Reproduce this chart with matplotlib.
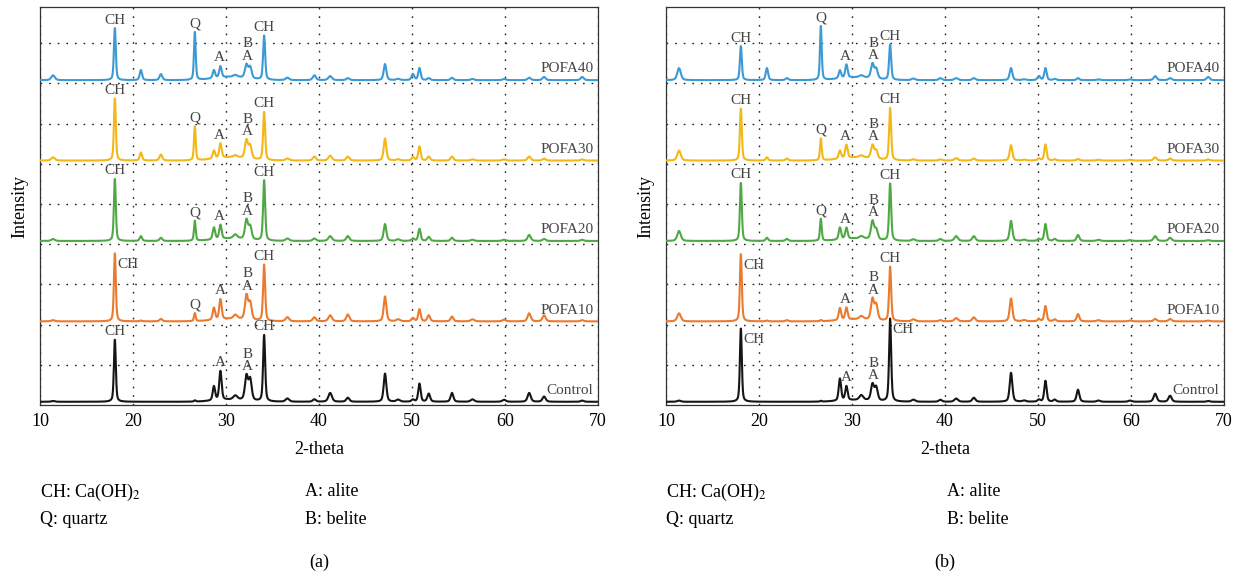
import numpy as np
import matplotlib
matplotlib.use("Agg")
import matplotlib.pyplot as plt

plt.rcParams["font.family"] = ["Liberation Serif", "DejaVu Serif"]
plt.rcParams["mathtext.fontset"] = "stix"

# Reflection positions (2-theta, deg) and their widths (FWHM, deg)
PEAK_POS = [11.4, 18.05, 20.85, 23.0, 26.65, 28.7, 29.4, 31.0, 32.2, 32.6,
            34.1, 36.6, 39.5, 41.2, 43.1, 47.1, 48.5, 50.1, 50.8, 51.8,
            54.3, 56.5, 59.9, 62.6, 64.2, 68.3]
PEAK_FWHM = [0.45, 0.24, 0.3, 0.35, 0.22, 0.3, 0.3, 0.5, 0.38, 0.38,
             0.26, 0.45, 0.4, 0.45, 0.4, 0.34, 0.45, 0.35, 0.3, 0.35,
             0.35, 0.45, 0.45, 0.4, 0.4, 0.4]

SAMPLES = ["Control", "POFA10", "POFA20", "POFA30", "POFA40"]
COLORS = ["#151515", "#ea7a2e", "#4fa845", "#f3b716", "#3b9ad4"]

# Peak heights (a), one row per sample, same order as PEAK_POS
A_CONTROL = [0.02, 1.55, 0.0, 0.0, 0.03, 0.35, 0.72, 0.1, 0.6, 0.52,
             1.65, 0.08, 0.06, 0.22, 0.1, 0.7, 0.05, 0.05, 0.45, 0.2,
             0.22, 0.06, 0.05, 0.22, 0.13, 0.03]
A_POFA10 = [0.03, 1.7, 0.02, 0.06, 0.2, 0.3, 0.5, 0.1, 0.6, 0.42,
            1.4, 0.1, 0.1, 0.15, 0.17, 0.62, 0.05, 0.08, 0.3, 0.15,
            0.12, 0.05, 0.04, 0.2, 0.15, 0.03]
A_POFA20 = [0.05, 1.55, 0.12, 0.08, 0.5, 0.3, 0.35, 0.1, 0.48, 0.32,
            1.5, 0.06, 0.06, 0.12, 0.12, 0.42, 0.04, 0.06, 0.3, 0.1,
            0.08, 0.03, 0.03, 0.15, 0.05, 0.03]
A_POFA30 = [0.08, 1.55, 0.2, 0.15, 0.85, 0.2, 0.36, 0.05, 0.45, 0.32,
            1.2, 0.05, 0.1, 0.12, 0.1, 0.55, 0.03, 0.08, 0.35, 0.1,
            0.1, 0.03, 0.03, 0.1, 0.05, 0.03]
A_POFA40 = [0.12, 1.3, 0.25, 0.15, 1.2, 0.2, 0.28, 0.05, 0.33, 0.28,
            1.1, 0.06, 0.12, 0.1, 0.05, 0.4, 0.03, 0.15, 0.3, 0.05,
            0.06, 0.03, 0.03, 0.06, 0.08, 0.08]

# Peak heights (b)
B_CONTROL = [0.03, 1.83, 0.0, 0.0, 0.02, 0.55, 0.35, 0.12, 0.4, 0.33,
             2.06, 0.05, 0.05, 0.08, 0.1, 0.72, 0.03, 0.05, 0.52, 0.05,
             0.3, 0.03, 0.03, 0.2, 0.15, 0.02]
B_POFA10 = [0.2, 1.68, 0.02, 0.03, 0.03, 0.3, 0.3, 0.08, 0.52, 0.38,
            1.35, 0.05, 0.03, 0.08, 0.1, 0.57, 0.03, 0.05, 0.38, 0.05,
            0.18, 0.03, 0.02, 0.06, 0.06, 0.02]
B_POFA20 = [0.25, 1.45, 0.08, 0.05, 0.55, 0.3, 0.28, 0.06, 0.45, 0.25,
            1.42, 0.04, 0.05, 0.12, 0.12, 0.5, 0.03, 0.05, 0.42, 0.05,
            0.15, 0.03, 0.02, 0.12, 0.08, 0.02]
B_POFA30 = [0.25, 1.3, 0.08, 0.05, 0.55, 0.2, 0.33, 0.05, 0.33, 0.2,
            1.3, 0.03, 0.03, 0.06, 0.05, 0.38, 0.02, 0.05, 0.4, 0.03,
            0.04, 0.02, 0.02, 0.08, 0.05, 0.03]
B_POFA40 = [0.3, 0.85, 0.3, 0.05, 1.35, 0.2, 0.33, 0.05, 0.36, 0.24,
            0.88, 0.04, 0.05, 0.05, 0.05, 0.3, 0.02, 0.1, 0.3, 0.03,
            0.05, 0.02, 0.02, 0.1, 0.05, 0.08]

HEIGHTS = {"a": [A_CONTROL, A_POFA10, A_POFA20, A_POFA30, A_POFA40],
           "b": [B_CONTROL, B_POFA10, B_POFA20, B_POFA30, B_POFA40]}

# amorphous hump under the 29-34 deg cluster
HUMP_POS, HUMP_FWHM = 30.5, 4.0
HUMP_A = [0.05, 0.06, 0.06, 0.08, 0.08]
HUMP_B = [0.04, 0.05, 0.06, 0.08, 0.07]

OFFSET_STEP = 2.0
BASE = 0.08

# phase markers: (text, 2-theta); a trailing ">" puts the text beside the peak
MARKERS_A = [
    [("CH", 18.05), ("A", 29.4), ("BA", 32.3), ("CH", 34.1)],
    [("CH>", 18.05), ("Q", 26.65), ("A", 29.4), ("BA", 32.3), ("CH", 34.1)],
    [("CH", 18.05), ("Q", 26.65), ("A", 29.3), ("BA", 32.3), ("CH", 34.1)],
    [("CH", 18.05), ("Q", 26.65), ("A", 29.3), ("BA", 32.3), ("CH", 34.1)],
    [("CH", 18.05), ("Q", 26.65), ("A", 29.3), ("BA", 32.3), ("CH", 34.1)],
]
MARKERS_B = [
    [("CH>", 18.05), ("A", 29.4), ("BA", 32.3), ("CH>", 34.1)],
    [("CH>", 18.05), ("A", 29.3), ("BA", 32.3), ("CH", 34.1)],
    [("CH", 18.05), ("Q", 26.65), ("A", 29.3), ("BA", 32.3), ("CH", 34.1)],
    [("CH", 18.05), ("Q", 26.65), ("A", 29.3), ("BA", 32.3), ("CH", 34.1)],
    [("CH", 18.05), ("Q", 26.65), ("A", 29.3), ("BA", 32.3), ("CH", 34.1)],
]

two_theta = np.arange(10.0, 70.0, 0.02)
LABEL_KW = dict(fontsize=11, color="#444444", zorder=4)


def pattern(heights, hump):
    y = np.full_like(two_theta, BASE)
    for pos, w, h in zip(PEAK_POS, PEAK_FWHM, heights):
        g = np.exp(-4 * np.log(2) * ((two_theta - pos) / w) ** 2)
        lor = 1.0 / (1.0 + 4 * ((two_theta - pos) / w) ** 2)
        y += h * (0.55 * g + 0.45 * lor)
    y += hump * np.exp(-4 * np.log(2) * ((two_theta - HUMP_POS) / HUMP_FWHM) ** 2)
    return y


def top_near(x, y, x0, half=0.3):
    m = np.abs(x - x0) <= half
    return y[m].max()


def draw_panel(ax, heights, humps, markers):
    ax.set_xlim(10, 70)
    ax.set_ylim(0, 9.9)
    ax.set_xticks(range(10, 71, 10))
    ax.set_yticks(range(1, 10))
    ax.tick_params(axis="y", length=0, labelleft=False)
    ax.tick_params(axis="x", length=0, pad=6, labelsize=13)
    ax.grid(True, ls=(0, (1.2, 5)), color="#222222", lw=1.0)
    for s in ax.spines.values():
        s.set_linewidth(0.9)
        s.set_color("#333333")

    for i, (name, color, h, hump, marks) in enumerate(
            zip(SAMPLES, COLORS, heights, humps, markers)):
        y = pattern(h, hump) + OFFSET_STEP * i
        ax.plot(two_theta, y, color=color, lw=1.5, zorder=3)
        ax.text(69.5, OFFSET_STEP * i + 0.36, name, ha="right", va="center",
                **LABEL_KW)
        for text, x0 in marks:
            top = top_near(two_theta, y, x0)
            if text.endswith(">"):
                ax.text(x0 + 0.25, top - 0.12, text[:-1], ha="left", va="top",
                        **LABEL_KW)
            elif text == "BA":
                ax.text(x0, top + 0.02, "A", ha="center", va="bottom", **LABEL_KW)
                ax.text(x0, top + 0.33, "B", ha="center", va="bottom", **LABEL_KW)
            else:
                ax.text(x0, top + 0.04, text, ha="center", va="bottom", **LABEL_KW)

    ax.set_xlabel("2-theta", fontsize=13, labelpad=8)
    ax.set_ylabel("Intensity", fontsize=13, labelpad=8)


fig = plt.figure(figsize=(12.41, 5.76), dpi=100)
ax_a = fig.add_axes([40 / 1241, 1 - 405 / 576, 558 / 1241, 398 / 576])
ax_b = fig.add_axes([666 / 1241, 1 - 405 / 576, 558 / 1241, 398 / 576])

draw_panel(ax_a, HEIGHTS["a"], HUMP_A, MARKERS_A)
draw_panel(ax_b, HEIGHTS["b"], HUMP_B, MARKERS_B)

# phase key under each panel
for left, mid, tag in [(40, 305, "(a)"), (666, 947, "(b)")]:
    fig.text(left / 1241, 1 - 492 / 576, "CH: Ca(OH)$_2$", fontsize=13, va="center")
    fig.text(left / 1241, 1 - 520 / 576, "Q: quartz", fontsize=13, va="center")
    fig.text(mid / 1241, 1 - 492 / 576, "A: alite", fontsize=13, va="center")
    fig.text(mid / 1241, 1 - 520 / 576, "B: belite", fontsize=13, va="center")
    fig.text((left + 279) / 1241, 1 - 562 / 576, tag, fontsize=13,
             ha="center", va="center")

fig.savefig("out.png", dpi=100)
